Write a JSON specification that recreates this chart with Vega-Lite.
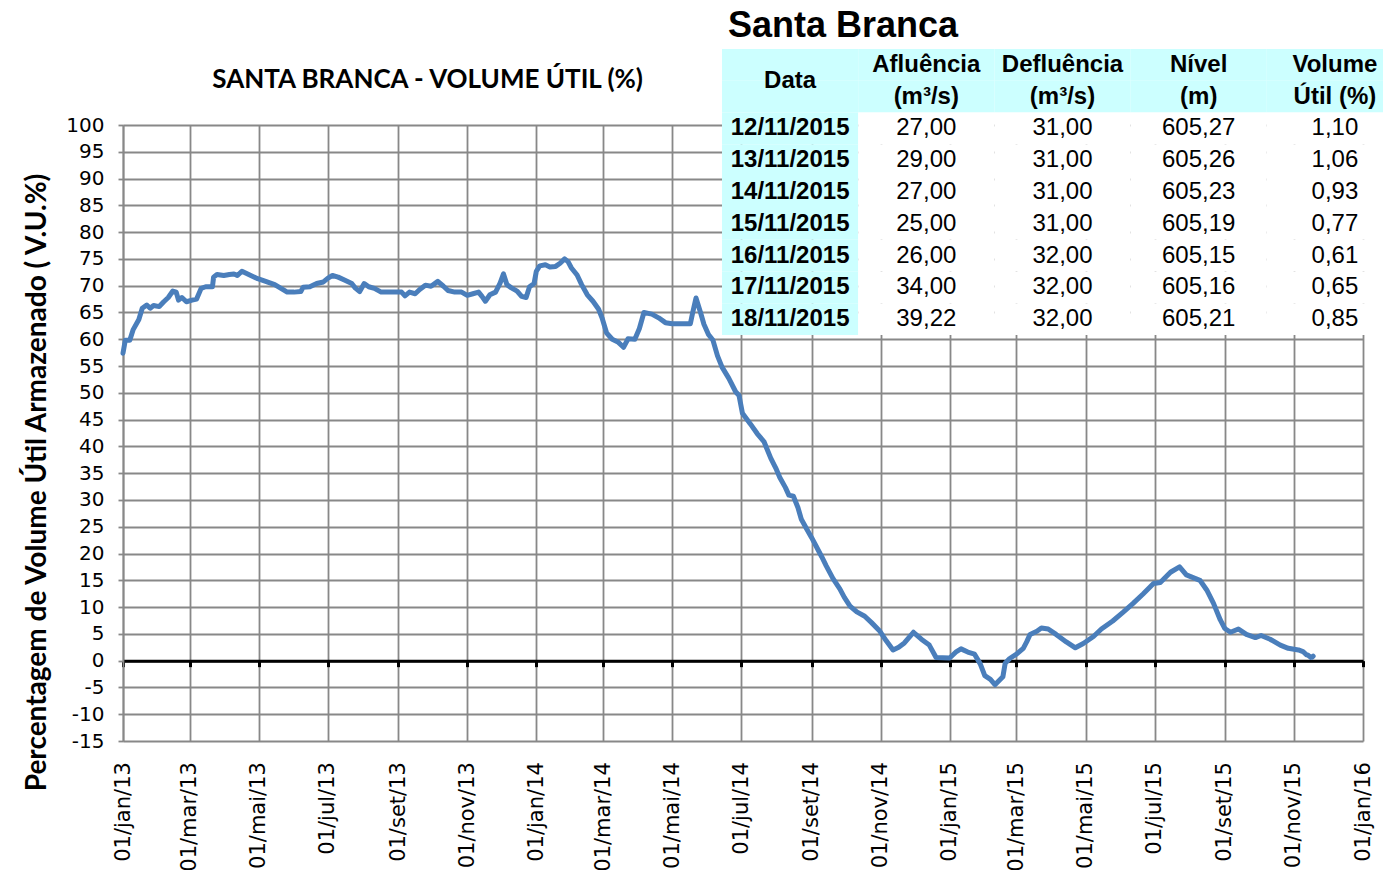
{
  "$schema": "https://vega.github.io/schema/vega-lite/v6.json",
  "width": 1240,
  "height": 616,
  "autosize": {"type": "none"},
  "padding": {"left": 123, "top": 125, "right": 20, "bottom": 129},
  "background": "white",
  "config": {"view": {"stroke": null}, "font": "DejaVu Sans"},
  "datasets": {
    "serie": [
      {"data": "2013-01-01", "volume": 57.4}, {"data": "2013-01-03", "volume": 59.8}, {"data": "2013-01-07", "volume": 59.8},
      {"data": "2013-01-10", "volume": 61.8}, {"data": "2013-01-15", "volume": 63.7}, {"data": "2013-01-18", "volume": 65.8},
      {"data": "2013-01-22", "volume": 66.4}, {"data": "2013-01-25", "volume": 65.8}, {"data": "2013-01-28", "volume": 66.3},
      {"data": "2013-02-02", "volume": 66.1}, {"data": "2013-02-06", "volume": 67.0}, {"data": "2013-02-10", "volume": 67.8},
      {"data": "2013-02-14", "volume": 69.0}, {"data": "2013-02-17", "volume": 68.8}, {"data": "2013-02-19", "volume": 67.3},
      {"data": "2013-02-22", "volume": 67.8}, {"data": "2013-02-26", "volume": 67.0}, {"data": "2013-03-03", "volume": 67.3},
      {"data": "2013-03-07", "volume": 67.5}, {"data": "2013-03-11", "volume": 69.5}, {"data": "2013-03-15", "volume": 69.8},
      {"data": "2013-03-21", "volume": 69.8}, {"data": "2013-03-22", "volume": 71.6}, {"data": "2013-03-25", "volume": 72.1},
      {"data": "2013-03-31", "volume": 71.9}, {"data": "2013-04-05", "volume": 72.1}, {"data": "2013-04-09", "volume": 72.2},
      {"data": "2013-04-12", "volume": 71.9}, {"data": "2013-04-16", "volume": 72.7}, {"data": "2013-04-22", "volume": 72.1},
      {"data": "2013-04-30", "volume": 71.3}, {"data": "2013-05-07", "volume": 70.8}, {"data": "2013-05-15", "volume": 70.2},
      {"data": "2013-05-22", "volume": 69.3}, {"data": "2013-05-26", "volume": 68.8}, {"data": "2013-06-01", "volume": 68.8},
      {"data": "2013-06-07", "volume": 68.9}, {"data": "2013-06-09", "volume": 69.7}, {"data": "2013-06-15", "volume": 69.8},
      {"data": "2013-06-21", "volume": 70.4}, {"data": "2013-06-27", "volume": 70.7}, {"data": "2013-07-01", "volume": 71.4},
      {"data": "2013-07-05", "volume": 71.9}, {"data": "2013-07-10", "volume": 71.6}, {"data": "2013-07-16", "volume": 71.0},
      {"data": "2013-07-22", "volume": 70.4}, {"data": "2013-07-25", "volume": 69.6}, {"data": "2013-07-29", "volume": 68.9},
      {"data": "2013-08-02", "volume": 70.4}, {"data": "2013-08-06", "volume": 69.8}, {"data": "2013-08-11", "volume": 69.5},
      {"data": "2013-08-17", "volume": 68.8}, {"data": "2013-08-26", "volume": 68.8}, {"data": "2013-09-04", "volume": 68.8},
      {"data": "2013-09-07", "volume": 68.1}, {"data": "2013-09-11", "volume": 68.8}, {"data": "2013-09-16", "volume": 68.5},
      {"data": "2013-09-20", "volume": 69.3}, {"data": "2013-09-25", "volume": 70.1}, {"data": "2013-09-30", "volume": 69.9},
      {"data": "2013-10-06", "volume": 70.8}, {"data": "2013-10-11", "volume": 69.9}, {"data": "2013-10-15", "volume": 69.1},
      {"data": "2013-10-21", "volume": 68.8}, {"data": "2013-10-27", "volume": 68.8}, {"data": "2013-11-01", "volume": 68.2},
      {"data": "2013-11-06", "volume": 68.5}, {"data": "2013-11-11", "volume": 68.8}, {"data": "2013-11-14", "volume": 68.0},
      {"data": "2013-11-17", "volume": 67.1}, {"data": "2013-11-21", "volume": 68.3}, {"data": "2013-11-26", "volume": 68.8},
      {"data": "2013-11-30", "volume": 70.5}, {"data": "2013-12-03", "volume": 72.2}, {"data": "2013-12-06", "volume": 70.2},
      {"data": "2013-12-10", "volume": 69.6}, {"data": "2013-12-15", "volume": 69.0}, {"data": "2013-12-19", "volume": 68.0},
      {"data": "2013-12-23", "volume": 67.8}, {"data": "2013-12-26", "volume": 69.8}, {"data": "2013-12-30", "volume": 70.4},
      {"data": "2014-01-01", "volume": 72.7}, {"data": "2014-01-04", "volume": 73.7}, {"data": "2014-01-09", "volume": 73.9},
      {"data": "2014-01-13", "volume": 73.5}, {"data": "2014-01-18", "volume": 73.6}, {"data": "2014-01-22", "volume": 74.2},
      {"data": "2014-01-26", "volume": 75.0}, {"data": "2014-01-29", "volume": 74.5}, {"data": "2014-02-01", "volume": 73.3},
      {"data": "2014-02-06", "volume": 72.0}, {"data": "2014-02-10", "volume": 70.2}, {"data": "2014-02-15", "volume": 68.3},
      {"data": "2014-02-20", "volume": 67.1}, {"data": "2014-02-25", "volume": 65.6}, {"data": "2014-02-28", "volume": 64.0},
      {"data": "2014-03-04", "volume": 61.2}, {"data": "2014-03-09", "volume": 60.0}, {"data": "2014-03-14", "volume": 59.5},
      {"data": "2014-03-19", "volume": 58.5}, {"data": "2014-03-23", "volume": 60.1}, {"data": "2014-03-29", "volume": 60.0},
      {"data": "2014-04-02", "volume": 62.0}, {"data": "2014-04-06", "volume": 65.0}, {"data": "2014-04-13", "volume": 64.7},
      {"data": "2014-04-19", "volume": 64.0}, {"data": "2014-04-25", "volume": 63.1}, {"data": "2014-05-01", "volume": 62.9},
      {"data": "2014-05-09", "volume": 62.9}, {"data": "2014-05-17", "volume": 62.9}, {"data": "2014-05-19", "volume": 64.9},
      {"data": "2014-05-22", "volume": 67.7}, {"data": "2014-05-26", "volume": 65.0}, {"data": "2014-05-29", "volume": 62.8},
      {"data": "2014-06-02", "volume": 60.9}, {"data": "2014-06-06", "volume": 59.8}, {"data": "2014-06-10", "volume": 56.9},
      {"data": "2014-06-14", "volume": 54.8}, {"data": "2014-06-20", "volume": 52.7}, {"data": "2014-06-26", "volume": 50.2},
      {"data": "2014-06-29", "volume": 49.5}, {"data": "2014-07-02", "volume": 46.2}, {"data": "2014-07-09", "volume": 44.2},
      {"data": "2014-07-15", "volume": 42.4}, {"data": "2014-07-21", "volume": 40.9}, {"data": "2014-07-27", "volume": 37.8},
      {"data": "2014-08-01", "volume": 35.7}, {"data": "2014-08-04", "volume": 34.2}, {"data": "2014-08-09", "volume": 32.3},
      {"data": "2014-08-12", "volume": 30.9}, {"data": "2014-08-16", "volume": 30.7}, {"data": "2014-08-20", "volume": 28.6},
      {"data": "2014-08-23", "volume": 26.4}, {"data": "2014-08-28", "volume": 24.5}, {"data": "2014-09-01", "volume": 23.0},
      {"data": "2014-09-05", "volume": 21.4}, {"data": "2014-09-10", "volume": 19.4}, {"data": "2014-09-14", "volume": 17.7},
      {"data": "2014-09-20", "volume": 15.3}, {"data": "2014-09-26", "volume": 13.4}, {"data": "2014-09-30", "volume": 11.8},
      {"data": "2014-10-05", "volume": 10.2}, {"data": "2014-10-11", "volume": 9.1}, {"data": "2014-10-18", "volume": 8.3},
      {"data": "2014-10-24", "volume": 7.1}, {"data": "2014-10-31", "volume": 5.6}, {"data": "2014-11-06", "volume": 3.7},
      {"data": "2014-11-12", "volume": 2.0}, {"data": "2014-11-17", "volume": 2.5}, {"data": "2014-11-22", "volume": 3.3},
      {"data": "2014-11-30", "volume": 5.3}, {"data": "2014-12-07", "volume": 4.0}, {"data": "2014-12-14", "volume": 2.9},
      {"data": "2014-12-20", "volume": 0.6}, {"data": "2015-01-01", "volume": 0.5}, {"data": "2015-01-07", "volume": 1.7},
      {"data": "2015-01-11", "volume": 2.2}, {"data": "2015-01-17", "volume": 1.6}, {"data": "2015-01-23", "volume": 1.2},
      {"data": "2015-01-28", "volume": -0.6}, {"data": "2015-02-01", "volume": -2.8}, {"data": "2015-02-06", "volume": -3.5},
      {"data": "2015-02-10", "volume": -4.5}, {"data": "2015-02-17", "volume": -3.0}, {"data": "2015-02-19", "volume": -0.5},
      {"data": "2015-02-23", "volume": 0.4}, {"data": "2015-03-01", "volume": 1.2}, {"data": "2015-03-07", "volume": 2.3},
      {"data": "2015-03-10", "volume": 3.5}, {"data": "2015-03-13", "volume": 4.9}, {"data": "2015-03-19", "volume": 5.5},
      {"data": "2015-03-23", "volume": 6.1}, {"data": "2015-03-29", "volume": 5.9}, {"data": "2015-04-05", "volume": 4.9},
      {"data": "2015-04-14", "volume": 3.5}, {"data": "2015-04-22", "volume": 2.4}, {"data": "2015-04-29", "volume": 3.2},
      {"data": "2015-05-08", "volume": 4.5}, {"data": "2015-05-15", "volume": 5.9}, {"data": "2015-05-25", "volume": 7.4},
      {"data": "2015-06-03", "volume": 9.0}, {"data": "2015-06-12", "volume": 10.7}, {"data": "2015-06-21", "volume": 12.5},
      {"data": "2015-06-30", "volume": 14.4}, {"data": "2015-07-06", "volume": 14.6}, {"data": "2015-07-15", "volume": 16.5},
      {"data": "2015-07-23", "volume": 17.5}, {"data": "2015-07-29", "volume": 16.0}, {"data": "2015-08-10", "volume": 15.0},
      {"data": "2015-08-16", "volume": 13.2}, {"data": "2015-08-22", "volume": 10.7}, {"data": "2015-08-28", "volume": 7.6},
      {"data": "2015-09-01", "volume": 6.0}, {"data": "2015-09-06", "volume": 5.3}, {"data": "2015-09-13", "volume": 5.9},
      {"data": "2015-09-20", "volume": 4.9}, {"data": "2015-09-28", "volume": 4.3}, {"data": "2015-10-03", "volume": 4.7},
      {"data": "2015-10-11", "volume": 4.0}, {"data": "2015-10-20", "volume": 2.9}, {"data": "2015-10-27", "volume": 2.3},
      {"data": "2015-11-05", "volume": 2.0}, {"data": "2015-11-09", "volume": 1.7}, {"data": "2015-11-12", "volume": 1.10},
      {"data": "2015-11-13", "volume": 1.06}, {"data": "2015-11-14", "volume": 0.93}, {"data": "2015-11-15", "volume": 0.77},
      {"data": "2015-11-16", "volume": 0.61}, {"data": "2015-11-17", "volume": 0.65}, {"data": "2015-11-18", "volume": 0.85}
    ],
    "tabela": [
      {"data": "12/11/2015", "afl": "27,00", "def": "31,00", "niv": "605,27", "vol": "1,10"},
      {"data": "13/11/2015", "afl": "29,00", "def": "31,00", "niv": "605,26", "vol": "1,06"},
      {"data": "14/11/2015", "afl": "27,00", "def": "31,00", "niv": "605,23", "vol": "0,93"},
      {"data": "15/11/2015", "afl": "25,00", "def": "31,00", "niv": "605,19", "vol": "0,77"},
      {"data": "16/11/2015", "afl": "26,00", "def": "32,00", "niv": "605,15", "vol": "0,61"},
      {"data": "17/11/2015", "afl": "34,00", "def": "32,00", "niv": "605,16", "vol": "0,65"},
      {"data": "18/11/2015", "afl": "39,22", "def": "32,00", "niv": "605,21", "vol": "0,85"}
    ],
    "cabecalho": [
      {"coluna": "data", "linha": "h1", "texto": "Data"},
      {"coluna": "data", "linha": "h2", "texto": ""},
      {"coluna": "afl", "linha": "h1", "texto": "Afluência"},
      {"coluna": "afl", "linha": "h2", "texto": "(m³/s)"},
      {"coluna": "def", "linha": "h1", "texto": "Defluência"},
      {"coluna": "def", "linha": "h2", "texto": "(m³/s)"},
      {"coluna": "niv", "linha": "h1", "texto": "Nível"},
      {"coluna": "niv", "linha": "h2", "texto": "(m)"},
      {"coluna": "vol", "linha": "h1", "texto": "Volume"},
      {"coluna": "vol", "linha": "h2", "texto": "Útil (%)"}
    ],
    "titulos": [
      {"titulo": "SANTA BRANCA - VOLUME ÚTIL (%)", "reservatorio": "Santa Branca"}
    ]
  },
  "layer": [
    {
      "data": {"name": "serie"},
      "mark": {"type": "line", "color": "#4A7EBB", "strokeWidth": 5, "strokeJoin": "round", "strokeCap": "round"},
      "encoding": {
        "x": {
          "field": "data", "type": "temporal",
          "scale": {"type": "utc", "domain": [{"year": 2013, "month": 1, "date": 1, "utc": true}, {"year": 2016, "month": 1, "date": 1, "utc": true}], "nice": false},
          "axis": {
            "title": null,
            "grid": true, "gridColor": "#888888", "gridWidth": 1.8,
            "tickCount": {"interval": "month", "step": 2},
            "labelExpr": "'01/' + ['jan','fev','mar','abr','mai','jun','jul','ago','set','out','nov','dez'][utcmonth(datum.value)] + '/' + utcFormat(datum.value, '%y')",
            "labelAngle": -90, "labelFont": "DejaVu Sans", "labelFontSize": 21, "labelColor": "black",
            "labelPadding": 95, "labelOverlap": false, "labelBound": false, "labelFlush": false,
            "offset": -80.35,
            "domainColor": "black", "domainWidth": 3,
            "ticks": true, "tickColor": "black", "tickWidth": 3, "tickSize": 6
          }
        },
        "y": {
          "field": "volume", "type": "quantitative",
          "scale": {"domain": [-15, 100], "nice": false, "zero": false},
          "axis": {
            "title": "Percentagem de Volume Útil Armazenado ( V.U.%)",
            "values": [-15, -10, -5, 0, 5, 10, 15, 20, 25, 30, 35, 40, 45, 50, 55, 60, 65, 70, 75, 80, 85, 90, 95, 100],
            "labelExpr": "'' + datum.value",
            "labelOverlap": false, "labelBound": false, "labelFlush": false, "labelSeparation": 0,
            "grid": true, "gridColor": "#888888", "gridWidth": 1.8,
            "domainColor": "#888888", "domainWidth": 1.8,
            "tickColor": "#888888", "tickWidth": 1.8, "tickSize": 5,
            "labelFont": "DejaVu Sans", "labelFontSize": 20, "labelColor": "black", "labelPadding": 14,
            "titleFont": "Lato", "titleFontSize": 28, "titleFontWeight": "bold", "titleColor": "black",
            "titleY": 357, "titlePadding": 14
          }
        }
      }
    },
    {
      "data": {"name": "titulos"},
      "mark": {"type": "text", "font": "Lato", "fontSize": 26, "fontWeight": "bold", "color": "black", "align": "center", "baseline": "middle"},
      "encoding": {
        "x": {"datum": {"year": 2013, "month": 9, "date": 27, "utc": true}, "type": "temporal", "axis": null,
              "scale": {"type": "utc", "domain": [{"year": 2013, "month": 1, "date": 1, "utc": true}, {"year": 2016, "month": 1, "date": 1, "utc": true}], "nice": false}},
        "y": {"datum": 108.4, "type": "quantitative", "axis": null, "scale": {"domain": [-15, 100], "nice": false, "zero": false}},
        "text": {"field": "titulo"}
      }
    },
    {
      "layer": [
        {
          "data": {"name": "cabecalho"},
          "mark": {"type": "rect", "color": "#CCFFFF"},
          "encoding": {
            "x": {"field": "coluna", "type": "nominal", "axis": null, "scale": {"type": "band", "domain": ["data", "afl", "def", "niv", "vol"], "range": [599, 1280], "paddingInner": 0, "paddingOuter": 0}},
            "y": {"field": "linha", "type": "nominal", "axis": null, "scale": {"type": "band", "domain": ["t", "h1", "h2", "12/11/2015", "13/11/2015", "14/11/2015", "15/11/2015", "16/11/2015", "17/11/2015", "18/11/2015"], "range": [-107.8, 210], "paddingInner": 0, "paddingOuter": 0}}
          }
        },
        {
          "data": {"name": "tabela"},
          "transform": [{"fold": ["data", "afl", "def", "niv", "vol"], "as": ["coluna", "valor"]}],
          "mark": {"type": "rect"},
          "encoding": {
            "x": {"field": "coluna", "type": "nominal", "axis": null, "scale": {"type": "band", "domain": ["data", "afl", "def", "niv", "vol"], "range": [599, 1280], "paddingInner": 0, "paddingOuter": 0}},
            "y": {"field": "data", "type": "nominal", "axis": null, "scale": {"type": "band", "domain": ["t", "h1", "h2", "12/11/2015", "13/11/2015", "14/11/2015", "15/11/2015", "16/11/2015", "17/11/2015", "18/11/2015"], "range": [-107.8, 210], "paddingInner": 0, "paddingOuter": 0}},
            "color": {"condition": {"test": "datum.coluna == 'data'", "value": "#CCFFFF"}, "value": "white"}
          }
        },
        {
          "data": {"name": "tabela"},
          "transform": [{"fold": ["afl", "def", "niv", "vol"], "as": ["coluna", "valor"]}],
          "mark": {"type": "text", "font": "Liberation Sans", "fontSize": 24, "color": "black", "align": "center", "baseline": "middle"},
          "encoding": {
            "x": {"field": "coluna", "type": "nominal", "axis": null, "scale": {"type": "band", "domain": ["data", "afl", "def", "niv", "vol"], "range": [599, 1280], "paddingInner": 0, "paddingOuter": 0}},
            "y": {"field": "data", "type": "nominal", "axis": null, "scale": {"type": "band", "domain": ["t", "h1", "h2", "12/11/2015", "13/11/2015", "14/11/2015", "15/11/2015", "16/11/2015", "17/11/2015", "18/11/2015"], "range": [-107.8, 210], "paddingInner": 0, "paddingOuter": 0}},
            "text": {"field": "valor"}
          }
        },
        {
          "data": {"name": "tabela"},
          "mark": {"type": "text", "font": "Liberation Sans", "fontSize": 24, "fontWeight": "bold", "color": "black", "align": "center", "baseline": "middle"},
          "encoding": {
            "x": {"datum": "data", "type": "nominal", "axis": null, "scale": {"type": "band", "domain": ["data", "afl", "def", "niv", "vol"], "range": [599, 1280], "paddingInner": 0, "paddingOuter": 0}},
            "y": {"field": "data", "type": "nominal", "axis": null, "scale": {"type": "band", "domain": ["t", "h1", "h2", "12/11/2015", "13/11/2015", "14/11/2015", "15/11/2015", "16/11/2015", "17/11/2015", "18/11/2015"], "range": [-107.8, 210], "paddingInner": 0, "paddingOuter": 0}},
            "text": {"field": "data"}
          }
        },
        {
          "data": {"name": "cabecalho"},
          "transform": [{"filter": "datum.coluna != 'data'"}],
          "mark": {"type": "text", "font": "Liberation Sans", "fontSize": 24, "fontWeight": "bold", "color": "black", "align": "center", "baseline": "middle"},
          "encoding": {
            "x": {"field": "coluna", "type": "nominal", "axis": null, "scale": {"type": "band", "domain": ["data", "afl", "def", "niv", "vol"], "range": [599, 1280], "paddingInner": 0, "paddingOuter": 0}},
            "y": {"field": "linha", "type": "nominal", "axis": null, "scale": {"type": "band", "domain": ["t", "h1", "h2", "12/11/2015", "13/11/2015", "14/11/2015", "15/11/2015", "16/11/2015", "17/11/2015", "18/11/2015"], "range": [-107.8, 210], "paddingInner": 0, "paddingOuter": 0}},
            "text": {"field": "texto"}
          }
        },
        {
          "data": {"name": "cabecalho"},
          "transform": [{"filter": "datum.coluna == 'data' && datum.linha == 'h1'"}],
          "mark": {"type": "text", "font": "Liberation Sans", "fontSize": 24, "fontWeight": "bold", "color": "black", "align": "center", "baseline": "middle"},
          "encoding": {
            "x": {"field": "coluna", "type": "nominal", "axis": null, "scale": {"type": "band", "domain": ["data", "afl", "def", "niv", "vol"], "range": [599, 1280], "paddingInner": 0, "paddingOuter": 0}},
            "y": {"field": "linha", "type": "nominal", "axis": null, "bandPosition": 1, "scale": {"type": "band", "domain": ["t", "h1", "h2", "12/11/2015", "13/11/2015", "14/11/2015", "15/11/2015", "16/11/2015", "17/11/2015", "18/11/2015"], "range": [-107.8, 210], "paddingInner": 0, "paddingOuter": 0}},
            "text": {"field": "texto"}
          }
        },
        {
          "data": {"name": "titulos"},
          "mark": {"type": "text", "font": "Liberation Sans", "fontSize": 36, "fontWeight": "bold", "color": "black", "align": "left", "baseline": "bottom", "dx": 6, "dy": -4},
          "encoding": {
            "x": {"datum": "data", "type": "nominal", "axis": null, "bandPosition": 0, "scale": {"type": "band", "domain": ["data", "afl", "def", "niv", "vol"], "range": [599, 1280], "paddingInner": 0, "paddingOuter": 0}},
            "y": {"datum": "t", "type": "nominal", "axis": null, "bandPosition": 1, "scale": {"type": "band", "domain": ["t", "h1", "h2", "12/11/2015", "13/11/2015", "14/11/2015", "15/11/2015", "16/11/2015", "17/11/2015", "18/11/2015"], "range": [-107.8, 210], "paddingInner": 0, "paddingOuter": 0}},
            "text": {"field": "reservatorio"}
          }
        }
      ]
    }
  ],
  "resolve": {"scale": {"x": "independent", "y": "independent"}}
}
